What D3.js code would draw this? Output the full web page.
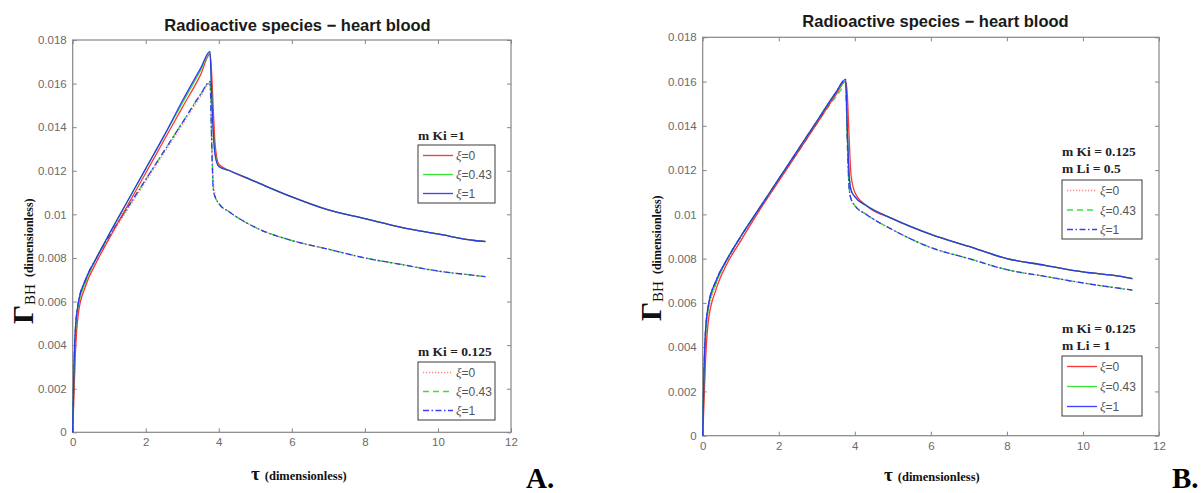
<!DOCTYPE html>
<html>
<head>
<meta charset="utf-8">
<script src="https://cdn.jsdelivr.net/npm/d3@7"></script>
<style>
  body { margin: 0; background: #fff; }
  svg { display: block; }
</style>
</head>
<body>
<svg id="chart" width="1203" height="493"></svg>
<script>
// ── Données ────────────────────────────────────────────────
const tauGrid = [0, 0.03, 0.07, 0.15, 0.35, 0.65, 1.0, 1.5, 2.0, 2.5, 3.0, 3.5, 3.76, 3.8, 3.85, 3.9, 4.0, 4.3, 5.0, 6.0, 7.0, 8.0, 9.0, 10.0, 11.0, 11.3]

const xTicks = [0, 2, 4, 6, 8, 10, 12]
const yTicks = [0, 0.002, 0.004, 0.006, 0.008, 0.01, 0.012, 0.014, 0.016, 0.018]
const yTickLabels = ['0', '0.002', '0.004', '0.006', '0.008', '0.01', '0.012', '0.014', '0.016', '0.018']
const xiLabels = ['0', '0.43', '1']

// Panel A — m Ki = 1 (traits pleins)
const aKi1Xi0   = [0, 0.0015, 0.0035, 0.0054, 0.0067, 0.0078, 0.0089, 0.0104, 0.0119, 0.0134, 0.0149, 0.0164, 0.01735, 0.0166, 0.0148, 0.0132, 0.0123, 0.0120, 0.0115, 0.0108, 0.0102, 0.0098, 0.0094, 0.0091, 0.0088, 0.00875]
const aKi1Xi043 = [0, 0.0024, 0.0044, 0.0058, 0.0069, 0.0080, 0.0091, 0.0106, 0.0121, 0.0136, 0.0151, 0.0166, 0.01742, 0.0158, 0.0138, 0.0128, 0.0122, 0.0120, 0.0115, 0.0108, 0.0102, 0.0098, 0.0094, 0.0091, 0.0088, 0.00875]
const aKi1Xi1   = [0, 0.0026, 0.0046, 0.0059, 0.0070, 0.0080, 0.0091, 0.0106, 0.0121, 0.0136, 0.0152, 0.0167, 0.01748, 0.0157, 0.0137, 0.0127, 0.0122, 0.0120, 0.0115, 0.0108, 0.0102, 0.0098, 0.0094, 0.0091, 0.0088, 0.00876]
// Panel A — m Ki = 0.125 (pointillés)
const aKi0125Xi0   = [0, 0.0016, 0.0036, 0.0055, 0.0068, 0.0079, 0.0089, 0.0102, 0.0115, 0.0128, 0.0141, 0.0154, 0.0160, 0.0142, 0.0116, 0.0109, 0.0105, 0.0101, 0.0094, 0.0088, 0.0084, 0.0080, 0.0077, 0.0074, 0.0072, 0.00713]
const aKi0125Xi043 = [0, 0.0024, 0.0044, 0.0058, 0.0069, 0.0080, 0.0090, 0.0103, 0.0116, 0.0129, 0.0142, 0.0155, 0.01605, 0.0137, 0.0112, 0.0108, 0.0105, 0.0101, 0.0094, 0.0088, 0.0084, 0.0080, 0.0077, 0.0074, 0.0072, 0.00714]
const aKi0125Xi1   = [0, 0.0026, 0.0046, 0.0059, 0.0070, 0.0080, 0.0090, 0.0103, 0.0116, 0.0129, 0.0142, 0.0155, 0.0161, 0.0136, 0.0111, 0.0108, 0.0105, 0.0101, 0.0094, 0.0088, 0.0084, 0.0080, 0.0077, 0.0074, 0.0072, 0.00714]

// Panel B — m Ki = 0.125, m Li = 0.5 (pointillés)
const bLi05Xi0   = [0, 0.0016, 0.0036, 0.0055, 0.0068, 0.0079, 0.0089, 0.0102, 0.0115, 0.0128, 0.0141, 0.0154, 0.0160, 0.0138, 0.0113, 0.0107, 0.0104, 0.0100, 0.0093, 0.0085, 0.0080, 0.0075, 0.0072, 0.0069, 0.00665, 0.00658]
const bLi05Xi043 = [0, 0.0024, 0.0044, 0.0058, 0.0069, 0.0080, 0.0090, 0.0103, 0.0116, 0.0128, 0.0141, 0.0153, 0.0158, 0.0134, 0.0112, 0.0107, 0.0104, 0.0100, 0.0093, 0.0085, 0.0080, 0.0075, 0.0072, 0.0069, 0.00665, 0.00658]
const bLi05Xi1   = [0, 0.0026, 0.0046, 0.0059, 0.0070, 0.0080, 0.0090, 0.0103, 0.0116, 0.0129, 0.0142, 0.0155, 0.0161, 0.0135, 0.0112, 0.0107, 0.0104, 0.0100, 0.0093, 0.0085, 0.0080, 0.0075, 0.0072, 0.0069, 0.00665, 0.00658]
// Panel B — m Ki = 0.125, m Li = 1 (traits pleins)
const bLi1Xi0   = [0, 0.0013, 0.0032, 0.0052, 0.0066, 0.0078, 0.0088, 0.0102, 0.0115, 0.0128, 0.0141, 0.0154, 0.0160, 0.0155, 0.0135, 0.0118, 0.0110, 0.0104, 0.0098, 0.0091, 0.00855, 0.0080, 0.0077, 0.0074, 0.0072, 0.0071]
const bLi1Xi043 = [0, 0.0024, 0.0044, 0.0058, 0.0069, 0.0080, 0.0090, 0.0103, 0.0116, 0.0129, 0.0142, 0.0155, 0.0160, 0.0140, 0.0119, 0.0111, 0.0108, 0.0104, 0.0098, 0.0091, 0.00855, 0.0080, 0.0077, 0.0074, 0.0072, 0.0071]
const bLi1Xi1   = [0, 0.0026, 0.0046, 0.0059, 0.0070, 0.0080, 0.0090, 0.0103, 0.0116, 0.0129, 0.0142, 0.0155, 0.0161, 0.0140, 0.0118, 0.0111, 0.0108, 0.0104, 0.0098, 0.0091, 0.00855, 0.0080, 0.0077, 0.0074, 0.0072, 0.0071]

// ── Styles ─────────────────────────────────────────────────
const SANS  = '"Liberation Sans", Arial, sans-serif'
const SERIF = '"Liberation Serif", "Times New Roman", serif'
const AXIS_COL = '#868686'
const TICK_TXT = '#6a6a6a'

const solid = [
  { color: '#ff2020', dash: null,        op: 0.9 },
  { color: '#20e020', dash: null,        op: 0.9 },
  { color: '#2828ff', dash: null,        op: 0.9 }
]
const broken = [
  { color: '#ff7070', dash: '1.2,1.8',   op: 0.85 },
  { color: '#20e020', dash: '6,4',       op: 0.9 },
  { color: '#2828ff', dash: '6,2.5,1.5,2.5', op: 0.9 }
]

const panels = [
  {
    box: { left: 72.7, right: 511, top: 40, bottom: 432.3 },
    title: { x: 297.5, y: 30.5 },
    ylab: { x: 33, y: 324 },
    xlab: { x: 251, y: 480 },
    letter: { text: 'A.', x: 526, y: 488 },
    groups: [
      { series: [aKi0125Xi0, aKi0125Xi043, aKi0125Xi1], styles: broken },
      { series: [aKi1Xi0, aKi1Xi043, aKi1Xi1], styles: solid }
    ],
    legends: [
      { lines: ['m Ki =1'], titleY: [139.5], box: [418, 145, 77, 58], styles: solid },
      { lines: ['m Ki = 0.125'], titleY: [355.5], box: [418, 362, 77, 58], styles: broken }
    ]
  },
  {
    box: { left: 702.7, right: 1159, top: 37.3, bottom: 435.7 },
    title: { x: 935.5, y: 26.5 },
    ylab: { x: 661, y: 321 },
    xlab: { x: 884, y: 481 },
    letter: { text: 'B.', x: 1172, y: 488 },
    groups: [
      { series: [bLi05Xi0, bLi05Xi043, bLi05Xi1], styles: broken },
      { series: [bLi1Xi0, bLi1Xi043, bLi1Xi1], styles: solid }
    ],
    legends: [
      { lines: ['m Ki = 0.125', 'm Li = 0.5'], titleY: [155.5, 173], box: [1062, 180, 80, 59], styles: broken },
      { lines: ['m Ki = 0.125', 'm Li = 1'], titleY: [332.5, 350], box: [1062, 356, 80, 60], styles: solid }
    ]
  }
]

const svg = d3.select('#chart')

panels.forEach(p => drawPanel(p))

function drawPanel(p) {
  const b = p.box
  const x = d3.scaleLinear().domain([0, 12]).range([b.left, b.right])
  const y = d3.scaleLinear().domain([0, 0.018]).range([b.bottom, b.top])
  const g = svg.append('g')

  // cadre
  g.append('rect')
    .attr('x', b.left).attr('y', b.top)
    .attr('width', b.right - b.left).attr('height', b.bottom - b.top)
    .attr('fill', 'none').attr('stroke', AXIS_COL).attr('stroke-width', 1.2)

  // axes : graduations vers l'intérieur, sur les 4 côtés
  const styleAxis = sel => {
    sel.select('.domain').remove()
    sel.selectAll('line').attr('stroke', AXIS_COL).attr('stroke-width', 1)
    sel.selectAll('text').attr('fill', TICK_TXT)
      .style('font-family', SANS).style('font-size', '11.5px')
  }
  g.append('g').attr('transform', `translate(0,${b.bottom})`)
    .call(d3.axisBottom(x).tickValues(xTicks).tickFormat(d3.format('d'))
      .tickSizeInner(-4).tickSizeOuter(0).tickPadding(6))
    .call(styleAxis)
  g.append('g').attr('transform', `translate(${b.left},0)`)
    .call(d3.axisLeft(y).tickValues(yTicks).tickFormat((d, i) => yTickLabels[i])
      .tickSizeInner(-4).tickSizeOuter(0).tickPadding(6))
    .call(styleAxis)
  g.append('g').attr('transform', `translate(0,${b.top})`)
    .call(d3.axisTop(x).tickValues(xTicks).tickFormat('').tickSizeInner(-4).tickSizeOuter(0))
    .call(styleAxis)
  g.append('g').attr('transform', `translate(${b.right},0)`)
    .call(d3.axisRight(y).tickValues(yTicks).tickFormat('').tickSizeInner(-4).tickSizeOuter(0))
    .call(styleAxis)

  // courbes
  const line = d3.line().x(d => x(d[0])).y(d => y(d[1])).curve(d3.curveMonotoneX)
  p.groups.forEach(grp => {
    grp.series.forEach((vals, i) => {
      const st = grp.styles[i]
      g.append('path')
        .datum(tauGrid.map((t, k) => [t, vals[k]]))
        .attr('d', line)
        .attr('fill', 'none')
        .attr('stroke', st.color)
        .attr('stroke-opacity', st.op)
        .attr('stroke-width', 1.3)
        .attr('stroke-dasharray', st.dash)
    })
  })

  // titre
  g.append('text')
    .attr('x', p.title.x).attr('y', p.title.y)
    .attr('text-anchor', 'middle')
    .style('font-family', SANS).style('font-size', '16.5px').style('font-weight', 'bold')
    .attr('fill', '#1a1a1a')
    .text('Radioactive species \u2212 heart blood')

  // étiquette axe Y : Γ_BH (dimensionless)
  const yl = g.append('text')
    .attr('transform', `translate(${p.ylab.x},${p.ylab.y}) rotate(-90)`)
    .style('font-family', SERIF).attr('fill', '#111')
  yl.append('tspan').style('font-size', '30px').style('font-weight', 'bold').text('\u0393')
  yl.append('tspan').style('font-size', '15px').attr('dy', 2).text('BH')
  yl.append('tspan').style('font-size', '12px').style('font-weight', 'bold')
    .attr('dy', -2).attr('dx', 7).text('(dimensionless)')

  // étiquette axe X : τ (dimensionless)
  const xl = g.append('text')
    .attr('x', p.xlab.x).attr('y', p.xlab.y)
    .style('font-family', SERIF).attr('fill', '#111').style('font-weight', 'bold')
  xl.append('tspan').style('font-size', '19px').text('\u03C4')
  xl.append('tspan').style('font-size', '12.5px').attr('dx', 5).text('(dimensionless)')

  // lettre du panneau
  g.append('text')
    .attr('x', p.letter.x).attr('y', p.letter.y)
    .style('font-family', SERIF).style('font-size', '29px').style('font-weight', 'bold')
    .attr('fill', '#000')
    .text(p.letter.text)

  // légendes
  p.legends.forEach(lg => {
    const [bx, by, bw, bh] = lg.box
    lg.lines.forEach((t, i) => {
      g.append('text')
        .attr('x', bx).attr('y', lg.titleY[i])
        .style('font-family', SERIF).style('font-size', '13.5px').style('font-weight', 'bold')
        .attr('fill', '#222')
        .text(t)
    })
    g.append('rect')
      .attr('x', bx).attr('y', by).attr('width', bw).attr('height', bh)
      .attr('fill', '#fff').attr('stroke', '#3a3a3a').attr('stroke-width', 1)
    const rowStep = (bh - 20) / 2
    xiLabels.forEach((lab, i) => {
      const ry = by + 10.5 + i * rowStep
      const st = lg.styles[i]
      g.append('line')
        .attr('x1', bx + 5).attr('x2', bx + 35).attr('y1', ry).attr('y2', ry)
        .attr('stroke', st.color).attr('stroke-opacity', st.op)
        .attr('stroke-width', 1.3).attr('stroke-dasharray', st.dash)
      const tx = g.append('text')
        .attr('x', bx + 38).attr('y', ry + 4.5)
        .attr('fill', '#555')
      tx.append('tspan').style('font-family', SERIF).style('font-style', 'italic')
        .style('font-size', '13px').text('\u03BE')
      tx.append('tspan').style('font-family', SANS).style('font-size', '12px').text('=' + lab)
    })
  })
}
</script>
</body>
</html>
